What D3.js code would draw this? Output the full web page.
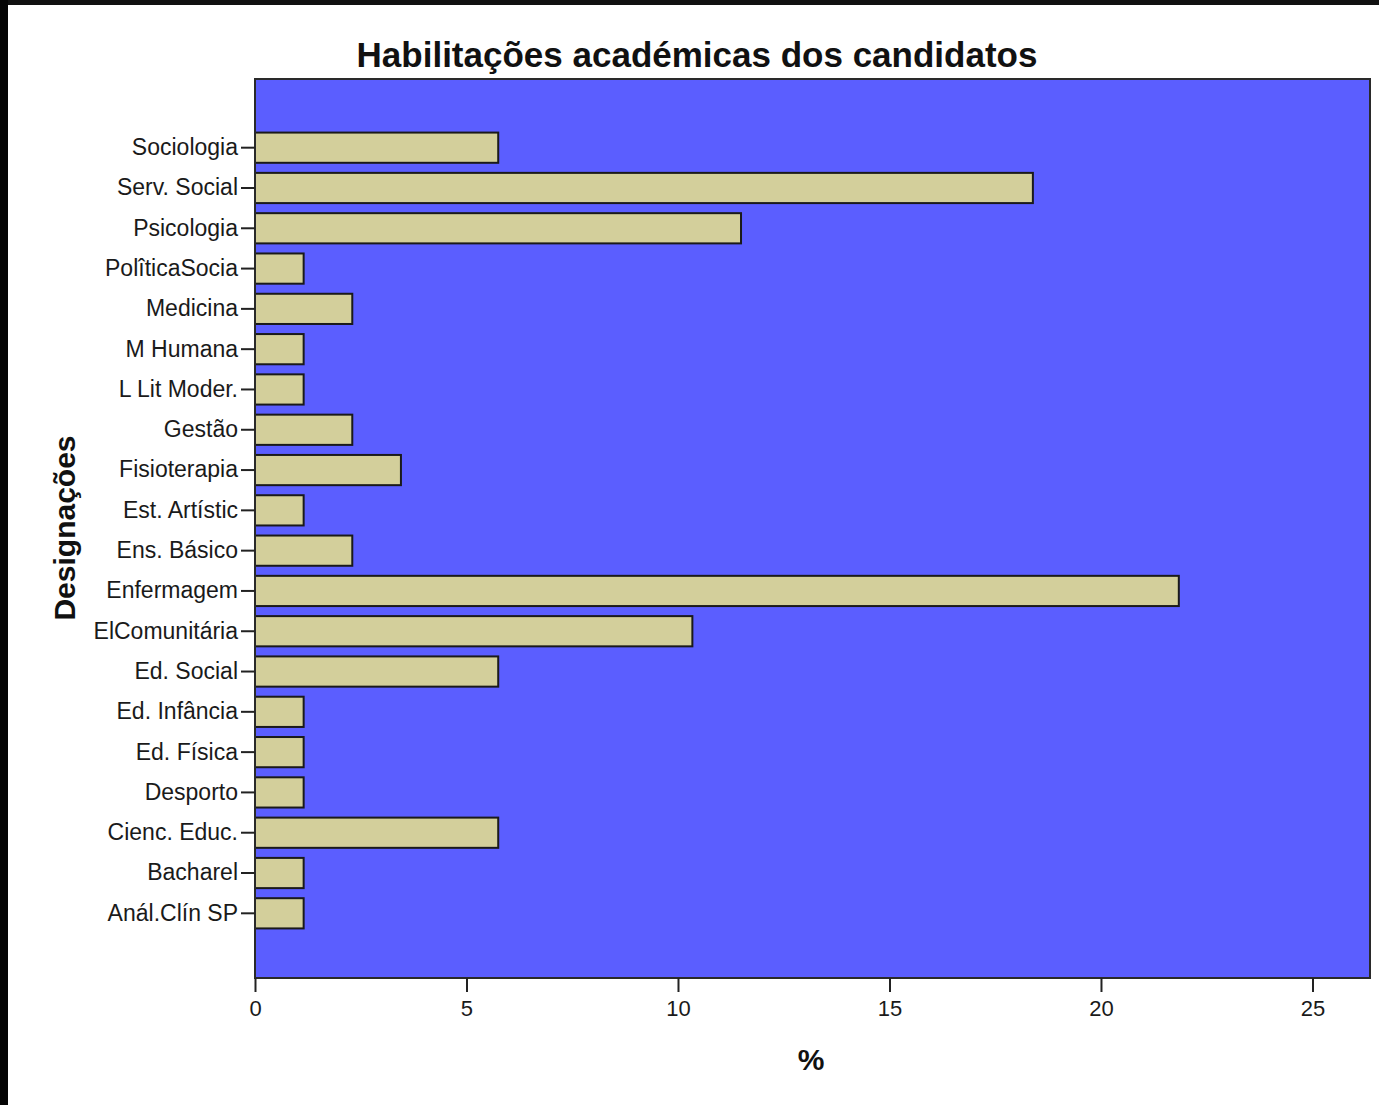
<!DOCTYPE html>
<html><head><meta charset="utf-8">
<script src="https://cdn.jsdelivr.net/npm/d3@7/dist/d3.min.js"></script>
<style>
html,body{margin:0;padding:0;background:#fff;}
svg{display:block;font-family:"Liberation Sans",Arial,sans-serif;}
</style></head>
<body>
<svg id="chart" width="1379" height="1105"></svg>
<script>
// Categories (top to bottom) and percentages (n = 87)
const categories = ["Sociologia","Serv. Social","Psicologia","PolîticaSocia","Medicina","M Humana","L Lit Moder.","Gestão","Fisioterapia","Est. Artístic","Ens. Básico","Enfermagem","ElComunitária","Ed. Social","Ed. Infância","Ed. Física","Desporto","Cienc. Educ.","Bacharel","Anál.Clín SP"];
const percents = [5.75, 18.39, 11.49, 1.15, 2.30, 1.15, 1.15, 2.30, 3.45, 1.15, 2.30, 21.84, 10.34, 5.75, 1.15, 1.15, 1.15, 5.75, 1.15, 1.15];
const xTicks = [0, 5, 10, 15, 20, 25];
const xMax = 26.36;
const titleText = "Habilitações académicas dos candidatos";
const yTitle = "Designações";
const xTitle = "%";

const svg = d3.select("#chart");
const plot = {left:255, top:79, right:1370, bottom:978};

// outer dark frame of the screenshot
svg.append("rect").attr("x",0).attr("y",0).attr("width",1379).attr("height",5).attr("fill","#111");
svg.append("rect").attr("x",0).attr("y",0).attr("width",8).attr("height",1105).attr("fill","#050505");

const x = d3.scaleLinear().domain([0, xMax]).range([plot.left, plot.right]);
const y = d3.scaleBand().domain(categories).range([plot.top + 2, plot.bottom + 2]).paddingInner(0.25).paddingOuter(1.28);

// plot background
svg.append("rect").attr("x",plot.left).attr("y",plot.top)
  .attr("width",plot.right-plot.left).attr("height",plot.bottom-plot.top)
  .attr("fill","#5b5eff");

// bars
svg.append("g").selectAll("rect").data(categories).join("rect")
  .attr("x", x(0))
  .attr("y", d => y(d))
  .attr("width", (d,i) => x(percents[i]) - x(0))
  .attr("height", y.bandwidth())
  .attr("fill","#d3cf9b")
  .attr("stroke","#1a1a1a")
  .attr("stroke-width",2);

// frame
svg.append("rect").attr("x",plot.left).attr("y",plot.top)
  .attr("width",plot.right-plot.left).attr("height",plot.bottom-plot.top)
  .attr("fill","none").attr("stroke","#2a2a2a").attr("stroke-width",2);

// y axis
const yAxis = svg.append("g").attr("transform",`translate(${plot.left},0)`)
  .call(d3.axisLeft(y).tickSize(14).tickPadding(3));
yAxis.select(".domain").remove();
yAxis.selectAll(".tick line").attr("stroke","#222").attr("stroke-width",2);
yAxis.selectAll(".tick text").attr("font-size",23).attr("fill","#1a1a1a")
  .attr("font-family","'Liberation Sans',Arial,sans-serif");

// x axis
const xAxis = svg.append("g").attr("transform",`translate(0,${plot.bottom})`)
  .call(d3.axisBottom(x).tickValues(xTicks).tickSize(14).tickPadding(8).tickFormat(d3.format("d")));
xAxis.select(".domain").remove();
xAxis.selectAll(".tick line").attr("stroke","#222").attr("stroke-width",2);
xAxis.selectAll(".tick text").attr("font-size",22).attr("fill","#1a1a1a")
  .attr("font-family","'Liberation Sans',Arial,sans-serif");

// titles
svg.append("text").attr("x",697).attr("y",67).attr("text-anchor","middle")
  .attr("font-size",35).attr("font-weight","bold").attr("fill","#111").text(titleText);
svg.append("text").attr("transform","translate(75,528) rotate(-90)").attr("text-anchor","middle")
  .attr("font-size",30).attr("font-weight","bold").attr("fill","#111").text(yTitle);
svg.append("text").attr("x",811).attr("y",1070).attr("text-anchor","middle")
  .attr("font-size",30).attr("font-weight","bold").attr("fill","#111").text(xTitle);
</script>
</body></html>
